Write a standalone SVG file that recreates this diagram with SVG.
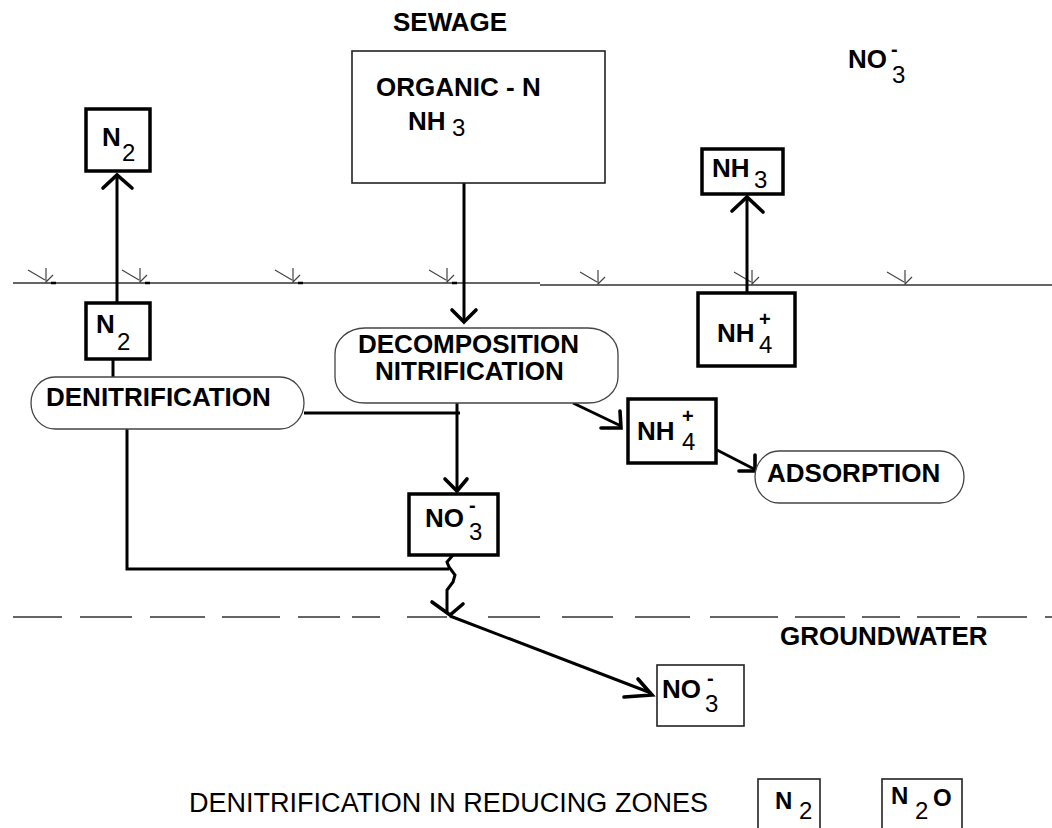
<svg xmlns="http://www.w3.org/2000/svg" width="1052" height="828" viewBox="0 0 1052 828">
<style>
.bg{fill:#fff}
.box{fill:#fff;stroke:#000;stroke-width:3.5}
.tbox{fill:#fff;stroke:#222;stroke-width:1.6}
.pill{fill:#fff;stroke:#444;stroke-width:1.3}
.con{fill:none;stroke:#000;stroke-width:3;stroke-linecap:butt;stroke-linejoin:miter}
.head{fill:none;stroke:#000;stroke-width:3.6;stroke-linecap:round;stroke-linejoin:miter}
.ground{fill:none;stroke:#333;stroke-width:1.6}
.tuft{fill:none;stroke:#444;stroke-width:1.2}
.t{font-family:"Liberation Sans",Arial,sans-serif;font-size:26px;font-weight:bold;fill:#000}
.r{font-weight:normal}
.sub{font-weight:normal;font-size:24px}
.sup{font-size:20px}
.lg{font-size:24px}
.lgd{font-size:24px;font-weight:normal}
.leg{font-size:27px;font-weight:normal}
</style>
<rect class="bg" x="0" y="0" width="1052" height="828"/>

<g id="surface">
  <path class="ground" d="M13 283 H540 M540 285 H1052"/>
  <path class="ground" d="M13 617 H62 M80 617 H132 M150 617 H205 M222 617 H280 M298 617 H340 M352 617 H380 M407 617 H447 M488 617 H540 M562 617 H613 M635 617 H690 M710 617 H778 M795 617 H845 M862 617 H900 M917 617 H960 M977 617 H1027 M1045 617 H1052"/>
  <g class="tuft">
    <path d="M28 270 L45 280 M46 268 V283 M53 275 L46 282"/>
    <path d="M122 270 L139 280 M140 268 V283 M147 275 L140 282"/>
    <path d="M275 270 L292 280 M293 268 V283 M300 275 L293 282"/>
    <path d="M429 270 L446 280 M447 268 V283 M454 275 L447 282"/>
    <path d="M580 272 L597 282 M598 270 V285 M605 277 L598 284"/>
    <path d="M734 272 L751 282 M752 270 V285 M759 277 L752 284"/>
    <path d="M887 272 L904 282 M905 270 V285 M912 277 L905 284"/>
  </g>
  <path d="M51 283 H56 M145 283 H150 M298 283 H303 M452 283 H457" stroke="#000" stroke-width="2.5"/>
</g>

<g id="connectors">
  <path class="con" d="M117 303 V177"/>
  <path class="head" d="M103 188 L117 175 L132 188"/>
  <path class="con" d="M113 359 V377"/>
  <path class="con" d="M464 183 V320"/>
  <path class="head" d="M452 310 L464 322 L476 310"/>
  <path class="con" d="M747 293 V199"/>
  <path class="head" d="M732 211 L747 197 L763 212"/>
  <path class="con" d="M457 403 V489"/>
  <path class="head" d="M445 479 L457 491 L467 479"/>
  <path class="con" d="M304 413 H460"/>
  <path class="con" d="M127 429 V569 H449"/>
  <path class="con" d="M573 403 L621 426"/>
  <path class="head" d="M620 411 L621 428 L601 428"/>
  <path class="con" d="M717 450 L754 469"/>
  <path class="head" d="M755 455 L755 471 L739 471"/>
  <path class="con" d="M453 555 L447 562 L449 567 L455 575 L453 582 L447 590 L447 612"/>
  <path class="head" d="M432 602 L450 615 L463 604"/>
  <path class="con" d="M450 616 L651 693"/>
  <path class="head" d="M624 697 L652 695 L638 679"/>
</g>

<g id="sewage-label"><text class="t" x="393" y="31">SEWAGE</text></g>

<g id="organic-box">
  <rect class="tbox" x="352" y="51" width="253" height="132"/>
  <text class="t" x="376" y="96">ORGANIC - N</text>
  <text class="t" x="408" y="130">NH<tspan class="sub" x="452" y="136">3</tspan></text>
</g>

<g id="no3-air">
  <text class="t" x="848" y="68">NO<tspan class="sup" x="891" y="56">-</tspan><tspan class="sub" x="892" y="83">3</tspan></text>
</g>

<g id="n2-top">
  <rect class="box" x="86" y="109" width="64" height="62"/>
  <text class="t" x="102" y="146">N<tspan class="sub" x="122" y="161">2</tspan></text>
</g>

<g id="n2-low">
  <rect class="box" x="86" y="303" width="64" height="56"/>
  <text class="t" x="96" y="333">N<tspan class="sub" x="117" y="350">2</tspan></text>
</g>

<g id="nh3-top">
  <rect class="box" x="702" y="149" width="81" height="45"/>
  <text class="t" x="712" y="177">NH<tspan class="sub" x="754" y="188">3</tspan></text>
</g>

<g id="nh4-top">
  <rect class="box" x="698" y="293" width="97" height="73"/>
  <text class="t" x="717" y="342">NH<tspan class="sup" x="759" y="326">+</tspan><tspan class="sub" x="759" y="353">4</tspan></text>
</g>

<g id="denitrification">
  <rect class="pill" x="31" y="377" width="273" height="52" rx="24" ry="26"/>
  <text class="t" x="46" y="406">DENITRIFICATION</text>
</g>

<g id="decomposition">
  <rect class="pill" x="335" y="328" width="283" height="75" rx="30" ry="26"/>
  <text class="t" x="358" y="353">DECOMPOSITION</text>
  <text class="t" x="375" y="380">NITRIFICATION</text>
</g>

<g id="nh4-mid">
  <rect class="box" x="628" y="399" width="88" height="64"/>
  <text class="t" x="637" y="440">NH<tspan class="sup" x="682" y="423">+</tspan><tspan class="sub" x="682" y="450">4</tspan></text>
</g>

<g id="adsorption">
  <rect class="pill" x="755" y="451" width="209" height="52" rx="24" ry="26"/>
  <text class="t" x="767" y="482">ADSORPTION</text>
</g>

<g id="no3-mid">
  <rect class="box" x="409" y="494" width="89" height="61"/>
  <text class="t" x="425" y="527">NO<tspan class="sup" x="469" y="512">-</tspan><tspan class="sub" x="469" y="540">3</tspan></text>
</g>

<g id="groundwater-label"><text class="t" x="780" y="645">GROUNDWATER</text></g>

<g id="no3-gw">
  <rect class="tbox" x="657" y="665" width="87" height="61"/>
  <text class="t" x="662" y="698">NO<tspan class="sup" x="707" y="685">-</tspan><tspan class="sub" x="705" y="712">3</tspan></text>
</g>

<g id="legend">
  <text class="t leg" x="189" y="812" textLength="519" lengthAdjust="spacingAndGlyphs">DENITRIFICATION IN REDUCING ZONES</text>
  <g id="legend-n2">
    <rect class="tbox" x="758" y="779" width="62" height="60"/>
    <text class="t lg" x="775" y="809">N<tspan class="lgd" x="799" y="819">2</tspan></text>
  </g>
  <g id="legend-n2o">
    <rect class="tbox" x="882" y="779" width="80" height="60"/>
    <text class="t lg" x="891" y="804">N<tspan class="lgd" x="915" y="819">2</tspan><tspan x="933" y="806">O</tspan></text>
  </g>
</g>
</svg>
